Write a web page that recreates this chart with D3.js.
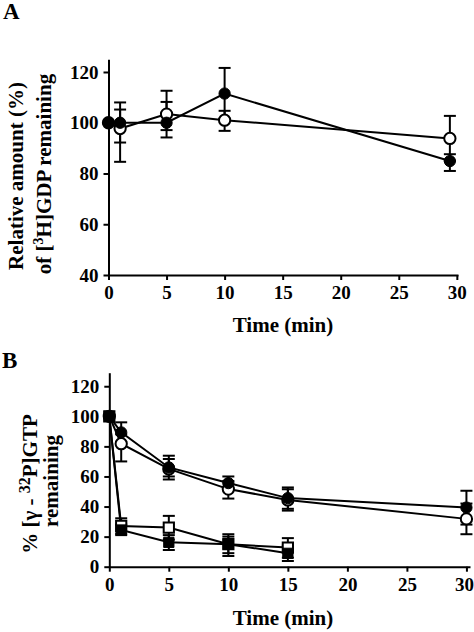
<!DOCTYPE html>
<html><head><meta charset="utf-8">
<script src="https://cdn.jsdelivr.net/npm/d3@7"></script>
<style>
body{margin:0;background:#fff}
svg{display:block}
text{font-family:"Liberation Serif","Times New Roman",serif;font-weight:bold;fill:#000}
</style>
</head><body><svg id="c" width="474" height="632"></svg>
<script>
// ---------- tick labels ----------
const ticksX = [0, 5, 10, 15, 20, 25, 30];
const ticksYA = [40, 60, 80, 100, 120];
const ticksYB = [0, 20, 40, 60, 80, 100, 120];

// ---------- Panel A data ----------
const timeA = [0, 1, 5, 10, 29.4];
const aFilled   = [100, 100, 100, 111.5, 84.9];
const aFilledLo = [null, 92.2, 97.1, 101.5, 81];
const aFilledHi = [null, 108, 108.2, 121.6, 87.6];
const aOpen     = [100, 97.7, 103.4, 101, 93.8];
const aOpenLo   = [null, 84.6, 94.2, 96.8, 85];
const aOpenHi   = [null, 105.2, 112.6, 104.7, 102.7];

// ---------- Panel B data ----------
const timeBc = [0, 1, 5, 10, 15, 30];
const bFilledC   = [100, 89.3, 66, 55.6, 45.6, 39.3];
const bFilledCLo = [null, 83, 58, 51, 38.5, 28];
const bFilledCHi = [null, 96, 73.8, 60, 52.7, 50.5];
const bOpenC     = [100, 81.8, 65, 51.6, 44.4, 31.8];
const bOpenCLo   = [null, 70, 60, 45.3, 37.3, 21.6];
const bOpenCHi   = [null, 88, 71.6, 57, 51.5, 42];

const timeBs = [0, 1, 5, 10, 15];
const bFilledS   = [100, 24.4, 16.2, 15, 8.9];
const bFilledSLo = [null, 21, 11.1, 9, 3.8];
const bFilledSHi = [null, 28, 21, 20, 14];
const bOpenS     = [100, 27.1, 26, 15, 12.7];
const bOpenSLo   = [null, 22, 18, 7.1, 6];
const bOpenSHi   = [null, 32.2, 33.8, 21.6, 19];

const svg = d3.select("#c");

function drawAxes(g, x, y, yTicks, xAxisY, yAxisX) {
  const ax = g.append("g").attr("class", "xaxis").attr("transform", `translate(0,${xAxisY})`)
    .call(d3.axisBottom(x).tickValues(ticksX).tickSize(5).tickPadding(6).tickSizeOuter(0));
  const ay = g.append("g").attr("class", "yaxis").attr("transform", `translate(${yAxisX},0)`)
    .call(d3.axisLeft(y).tickValues(yTicks).tickSize(5).tickPadding(5).tickSizeOuter(0));
  [ax, ay].forEach(a => {
    a.selectAll("path.domain").attr("stroke", "#000").attr("stroke-width", 2);
    a.selectAll(".tick line").attr("stroke", "#000").attr("stroke-width", 2);
    a.selectAll(".tick text").attr("fill", "#000")
      .style("font-size", "19px").style("font-weight", "bold")
      .style("font-family", '"Liberation Serif","Times New Roman",serif');
  });
  return ax;
}

function drawLine(g, x, y, t, v) {
  g.append("path")
    .datum(t.map((d, i) => [d, v[i]]))
    .attr("fill", "none").attr("stroke", "#000").attr("stroke-width", 2)
    .attr("d", d3.line().x(d => x(d[0])).y(d => y(d[1])));
}

function drawErr(g, x, y, t, lo, hi) {
  const cw = 6;
  t.forEach((d, i) => {
    if (lo[i] == null) return;
    const cx = x(d);
    g.append("line").attr("x1", cx).attr("x2", cx).attr("y1", y(lo[i])).attr("y2", y(hi[i]))
      .attr("stroke", "#000").attr("stroke-width", 2);
    [lo[i], hi[i]].forEach(e => {
      g.append("line").attr("x1", cx - cw).attr("x2", cx + cw).attr("y1", y(e)).attr("y2", y(e))
        .attr("stroke", "#000").attr("stroke-width", 2);
    });
  });
}

function drawMarks(g, x, y, t, v, shape, filled) {
  const sym = d3.symbol().type(shape === "circle" ? d3.symbolCircle : d3.symbolSquare)
    .size(shape === "circle" ? 100 : 105);
  g.selectAll(null).data(t.map((d, i) => [d, v[i]])).enter().append("path")
    .attr("transform", d => `translate(${x(d[0])},${y(d[1])})`)
    .attr("d", sym)
    .attr("fill", filled ? "#000" : "#fff")
    .attr("stroke", "#000").attr("stroke-width", filled ? 1 : 2);
}

// ---------- Panel A ----------
{
  const x = d3.scaleLinear().domain([0, 30.1]).range([108.5, 458]);
  const y = d3.scaleLinear().domain([40, 125]).range([275, 59.3]);
  const g = svg.append("g");
  drawAxes(g, x, y, ticksYA, 275, 108.5);
  drawLine(g, x, y, timeA, aOpen);
  drawLine(g, x, y, timeA, aFilled);
  drawErr(g, x, y, timeA, aOpenLo, aOpenHi);
  drawErr(g, x, y, timeA, aFilledLo, aFilledHi);
  drawMarks(g, x, y, timeA, aOpen, "circle", false);
  drawMarks(g, x, y, timeA, aFilled, "circle", true);

  g.append("text").attr("x", 3).attr("y", 19).attr("font-size", 23).text("A");
  g.append("text").attr("x", 283).attr("y", 332).attr("text-anchor", "middle")
    .attr("font-size", 21).text("Time (min)");
  g.append("text").attr("transform", "translate(23,176) rotate(-90)")
    .attr("text-anchor", "middle").attr("font-size", 21).text("Relative amount (%)");
  const t2 = g.append("text").attr("transform", "translate(51,174) rotate(-90)")
    .attr("text-anchor", "middle").attr("font-size", 21);
  t2.append("tspan").text("of [");
  t2.append("tspan").attr("font-size", 14).attr("dy", -8).text("3");
  t2.append("tspan").attr("dy", 8).text("H]GDP remaining");
}

// ---------- Panel B ----------
{
  const x = d3.scaleLinear().domain([0, 30.3]).range([109.3, 470]);
  const y = d3.scaleLinear().domain([0, 129]).range([566.7, 372.7]);
  const g = svg.append("g");
  const ax = drawAxes(g, x, y, ticksYB, 566.7, 109.3);
  // keep the last label inside the page, as in the reference
  ax.selectAll(".tick text").filter(d => d === 30).attr("dx", -2.5);
  drawLine(g, x, y, timeBc, bOpenC);
  drawLine(g, x, y, timeBc, bFilledC);
  drawLine(g, x, y, timeBs, bOpenS);
  drawLine(g, x, y, timeBs, bFilledS);
  drawErr(g, x, y, timeBc, bOpenCLo, bOpenCHi);
  drawErr(g, x, y, timeBc, bFilledCLo, bFilledCHi);
  drawErr(g, x, y, timeBs, bOpenSLo, bOpenSHi);
  drawErr(g, x, y, timeBs, bFilledSLo, bFilledSHi);
  drawMarks(g, x, y, timeBc, bOpenC, "circle", false);
  drawMarks(g, x, y, timeBc, bFilledC, "circle", true);
  drawMarks(g, x, y, timeBs, bOpenS, "square", false);
  drawMarks(g, x, y, timeBs, bFilledS, "square", true);

  g.append("text").attr("x", 2).attr("y", 368).attr("font-size", 23).text("B");
  g.append("text").attr("x", 283).attr("y", 625).attr("text-anchor", "middle")
    .attr("font-size", 21).text("Time (min)");
  const t1 = g.append("text").attr("transform", "translate(37,484) rotate(-90)")
    .attr("text-anchor", "middle").attr("font-size", 21);
  t1.append("tspan").text("% [γ - ");
  t1.append("tspan").attr("font-size", 16).attr("dy", -7).text("32");
  t1.append("tspan").attr("dy", 7).text("P]GTP");
  g.append("text").attr("transform", "translate(58,481) rotate(-90)")
    .attr("text-anchor", "middle").attr("font-size", 21).text("remaining");
}
</script>
</body></html>
